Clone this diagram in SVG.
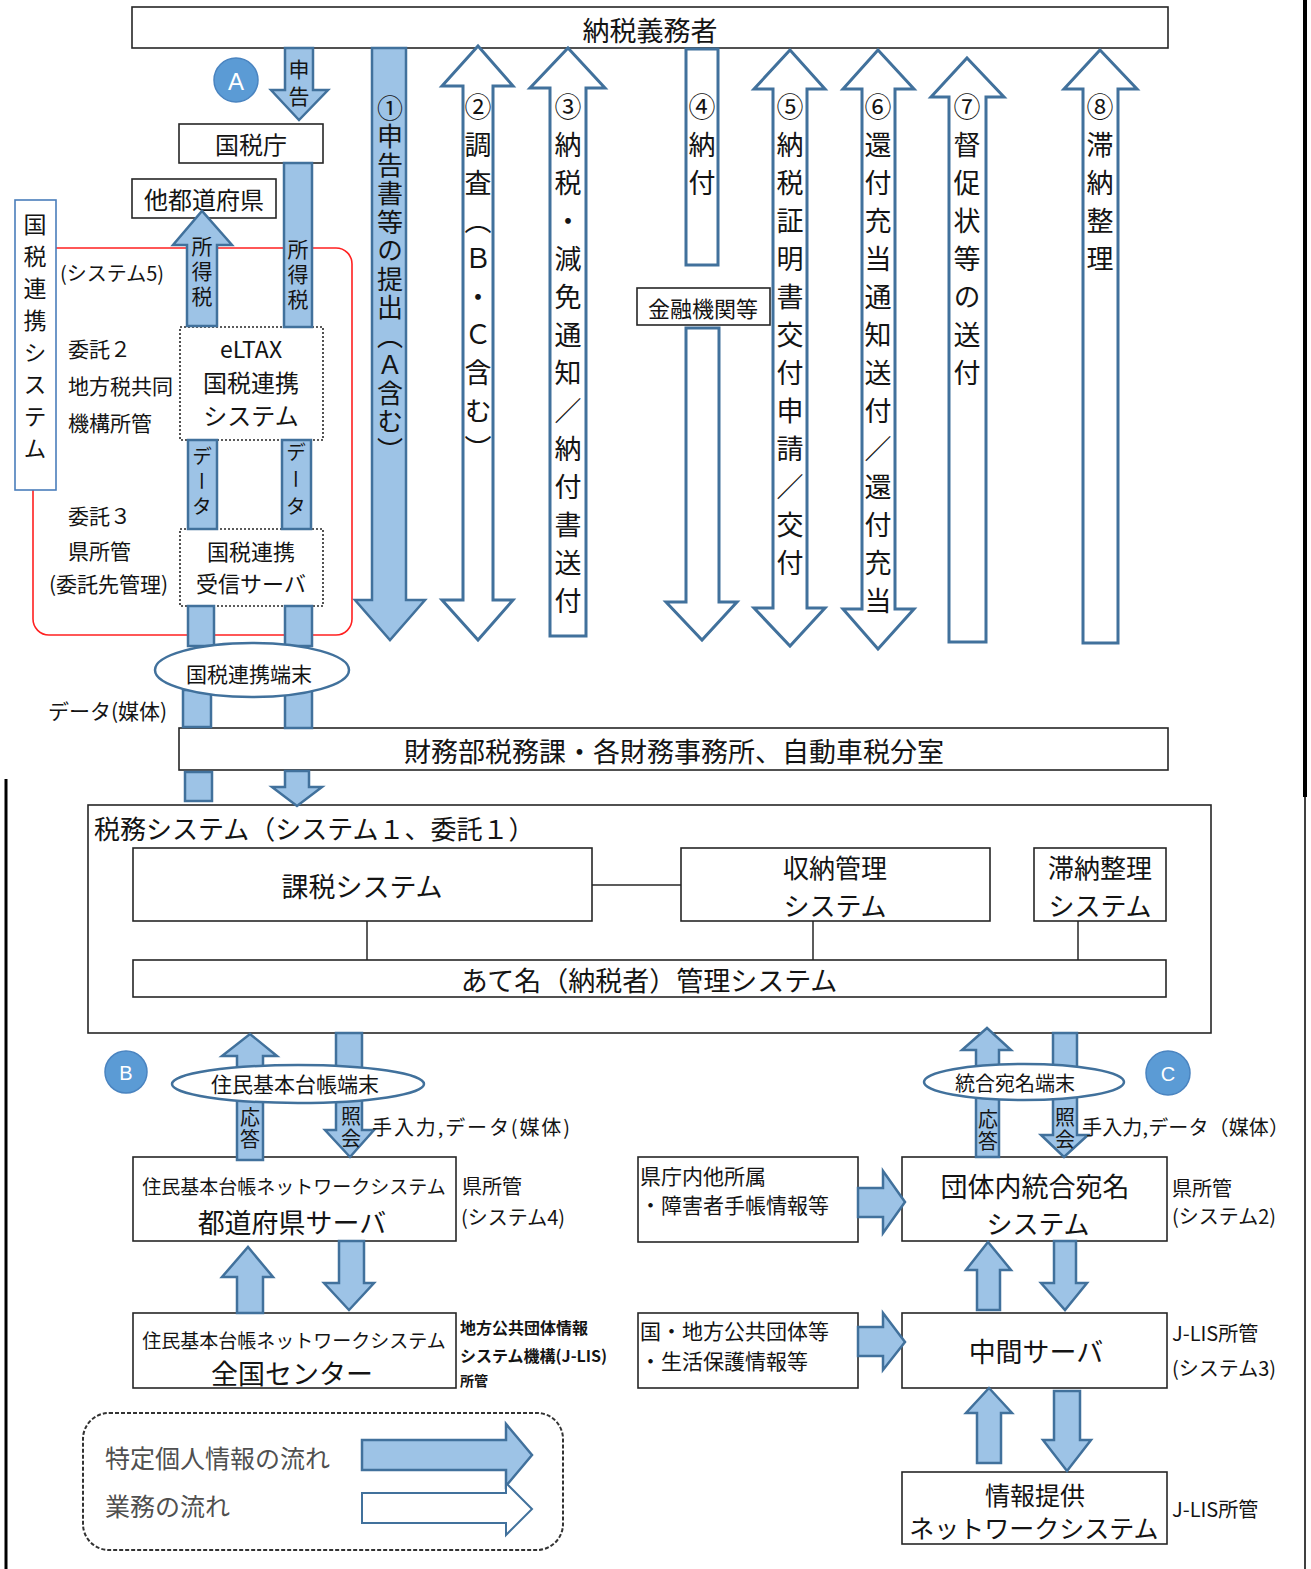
<svg xmlns="http://www.w3.org/2000/svg" width="1311" height="1569" viewBox="0 0 1311 1569">
<style>
.bx{fill:#fff;stroke:#262626;stroke-width:1.6}
.dt{fill:#fff;stroke:#262626;stroke-width:1.6;stroke-dasharray:2 2}
.ba{fill:#9DC3E6;stroke:#41719C;stroke-width:2.5}
.wa{fill:#fff;stroke:#41719C;stroke-width:3}
.el{fill:#fff;stroke:#41719C;stroke-width:2.5}
.ln{stroke:#262626;stroke-width:1.5;fill:none}
.cir{fill:#5B9BD5;stroke:#4A84C0;stroke-width:1.5}
text{font-family:"Noto Sans CJK JP","Noto Sans",sans-serif;fill:#141414}
.m{text-anchor:middle;dominant-baseline:central}
.l{dominant-baseline:central}
.v{writing-mode:vertical-rl}
.ct{fill:#fff;text-anchor:middle;dominant-baseline:central;font-family:"Liberation Sans",sans-serif;font-size:24px}
.lg{fill:#505050}
</style>

<!-- page edge lines -->
<line x1="6" y1="779" x2="6" y2="1569" stroke="#000" stroke-width="3"/>
<line x1="1305" y1="0" x2="1305" y2="797" stroke="#000" stroke-width="4"/>
<line x1="1305" y1="797" x2="1305" y2="1569" stroke="#000" stroke-width="1.5"/>

<!-- red boundary of system 5 -->
<rect x="33" y="248" width="319" height="387" rx="16" fill="none" stroke="#FF2020" stroke-width="1.6"/>

<g id="node-nozeigimusha">
<rect class="bx" x="132" y="7" width="1036" height="41"/>
<text class="m" x="650" y="29" style="font-size:27px">納税義務者</text>
</g>

<g id="node-kokuzeicho">
<rect class="bx" x="179" y="124" width="144" height="39"/>
<text class="m" x="251" y="143" style="font-size:24px">国税庁</text>
</g>

<g id="node-tatodofuken">
<rect class="bx" x="132" y="179" width="144" height="39"/>
<text class="m" x="204" y="198" style="font-size:24px">他都道府県</text>
</g>

<g id="node-kokuzei-renkei-system">
<rect x="15" y="200" width="41" height="290" fill="#fff" stroke="#4A7EBB" stroke-width="1.6"/>
<text class="v" x="35" y="213" style="font-size:23px;letter-spacing:9px">国税連携システム</text>
</g>

<g id="node-labels-system5">
<text class="l" x="60" y="272" style="font-size:20px">(システム5)</text>
<text class="l" x="68" y="348" style="font-size:21px">委託２</text>
<text class="l" x="68" y="385" style="font-size:21px">地方税共同</text>
<text class="l" x="68" y="422" style="font-size:21px">機構所管</text>
<text class="l" x="68" y="515" style="font-size:21px">委託３</text>
<text class="l" x="68" y="550" style="font-size:21px">県所管</text>
<text class="l" x="49" y="583" style="font-size:21px">(委託先管理)</text>
</g>

<g id="node-eltax">
<rect class="dt" x="180" y="327" width="143" height="113"/>
<text class="m" x="251" y="348" style="font-size:23px">eLTAX</text>
<text class="m" x="251" y="381" style="font-size:24px">国税連携</text>
<text class="m" x="251" y="414" style="font-size:24px">システム</text>
</g>

<g id="node-jushin-server">
<rect class="dt" x="180" y="529" width="143" height="77"/>
<text class="m" x="251" y="550" style="font-size:22px">国税連携</text>
<text class="m" x="251" y="582" style="font-size:22px">受信サーバ</text>
</g>

<g id="node-kinyu">
<rect class="bx" x="637" y="288" width="133" height="37"/>
<text class="m" x="703" y="307" style="font-size:22px">金融機関等</text>
</g>

<g id="node-zaimubu">
<rect class="bx" x="179" y="728" width="989" height="42"/>
<text class="m" x="674" y="750" style="font-size:27px">財務部税務課・各財務事務所、自動車税分室</text>
</g>

<g id="node-zeimu-system">
<rect class="bx" x="88" y="805" width="1123" height="228"/>
<text class="l" x="94" y="827" style="font-size:26px">税務システム（システム１、委託１）</text>
</g>

<g id="node-kazei">
<rect class="bx" x="133" y="848" width="459" height="73"/>
<text class="m" x="362" y="885" style="font-size:27px">課税システム</text>
</g>

<g id="node-shuno">
<rect class="bx" x="681" y="848" width="309" height="73"/>
<text class="m" x="835" y="866" style="font-size:26px">収納管理</text>
<text class="m" x="835" y="904" style="font-size:26px">システム</text>
</g>

<g id="node-taino">
<rect class="bx" x="1034" y="848" width="132" height="73"/>
<text class="m" x="1100" y="866" style="font-size:26px">滞納整理</text>
<text class="m" x="1100" y="904" style="font-size:26px">システム</text>
</g>

<g id="node-atena">
<rect class="bx" x="133" y="960" width="1033" height="37"/>
<text class="m" x="649" y="979" style="font-size:27px">あて名（納税者）管理システム</text>
</g>

<g id="node-juki-todofuken">
<rect class="bx" x="133" y="1157" width="323" height="84"/>
<text class="m" x="294" y="1185" style="font-size:19px">住民基本台帳ネットワークシステム</text>
<text class="m" x="292" y="1221" style="font-size:27px">都道府県サーバ</text>
<text class="l" x="462" y="1185" style="font-size:20px">県所管</text>
<text class="l" x="461" y="1216" style="font-size:20px">(システム4)</text>
</g>

<g id="node-juki-zenkoku">
<rect class="bx" x="133" y="1313" width="323" height="75"/>
<text class="m" x="294" y="1339" style="font-size:19px">住民基本台帳ネットワークシステム</text>
<text class="m" x="292" y="1372" style="font-size:27px">全国センター</text>
<text class="l" x="460" y="1327" style="font-size:16px;font-weight:bold">地方公共団体情報</text>
<text class="l" x="460" y="1355" style="font-size:16px;font-weight:bold">システム機構(J-LIS)</text>
<text class="l" x="460" y="1380" style="font-size:14px;font-weight:bold">所管</text>
</g>

<g id="node-kenchonai">
<rect class="bx" x="638" y="1157" width="220" height="85"/>
<text class="l" x="640" y="1175" style="font-size:21px">県庁内他所属</text>
<text class="l" x="640" y="1204" style="font-size:21px">・障害者手帳情報等</text>
</g>

<g id="node-kuni-chiho">
<rect class="bx" x="638" y="1313" width="220" height="75"/>
<text class="l" x="640" y="1330" style="font-size:21px">国・地方公共団体等</text>
<text class="l" x="640" y="1360" style="font-size:21px">・生活保護情報等</text>
</g>

<g id="node-dantainai-atena">
<rect class="bx" x="902" y="1157" width="265" height="84"/>
<text class="m" x="1035" y="1185" style="font-size:27px">団体内統合宛名</text>
<text class="m" x="1038" y="1222" style="font-size:26px">システム</text>
<text class="l" x="1172" y="1187" style="font-size:20px">県所管</text>
<text class="l" x="1172" y="1215" style="font-size:20px">(システム2)</text>
</g>

<g id="node-chukan-server">
<rect class="bx" x="902" y="1313" width="265" height="75"/>
<text class="m" x="1036" y="1350" style="font-size:27px">中間サーバ</text>
<text class="l" x="1172" y="1332" style="font-size:20px">J-LIS所管</text>
<text class="l" x="1172" y="1367" style="font-size:20px">(システム3)</text>
</g>

<g id="node-joho-teikyo">
<rect class="bx" x="902" y="1472" width="265" height="72"/>
<text class="m" x="1035" y="1494" style="font-size:25px">情報提供</text>
<text class="m" x="1034" y="1527" style="font-size:25px">ネットワークシステム</text>
<text class="l" x="1172" y="1508" style="font-size:20px">J-LIS所管</text>
</g>

<g id="connectors">
<!-- internal tax system lines -->
<line class="ln" x1="592" y1="885" x2="681" y2="885"/>
<line class="ln" x1="367" y1="921" x2="367" y2="960"/>
<line class="ln" x1="813" y1="921" x2="813" y2="960"/>
<line class="ln" x1="1078" y1="921" x2="1078" y2="960"/>

<!-- A section -->
<path class="ba" d="M285,48 H313 V90 H328 L299,120 L271,90 H285 Z"/>
<path class="ba" d="M187,326 V245 H173 L202,211 L232,245 H217 V326 Z"/>
<rect class="ba" x="284" y="163" width="28" height="164"/>
<rect class="ba" x="188" y="440" width="29" height="89"/>
<rect class="ba" x="282" y="440" width="29" height="89"/>
<rect class="ba" x="188" y="606" width="26" height="40"/>
<rect class="ba" x="285" y="606" width="27" height="40"/>
<rect class="ba" x="183" y="690" width="28" height="37"/>
<rect class="ba" x="285" y="690" width="27" height="38"/>
<rect class="ba" x="185" y="772" width="27" height="29"/>
<path class="ba" d="M285,771 H309 V787 H322 L297,806 L272,787 H285 Z"/>

<!-- flow arrows 1-8 -->
<path class="ba" d="M372,48 H406 V600 H425 L390,640 L355,600 H372 Z"/>
<path class="wa" d="M478,46 L513,86 H493 V600 H513 L478,640 L442,600 H463 V86 H442 Z"/>
<path class="wa" d="M568,48 L605,88 H586 V636 H550 V88 H530 Z"/>
<rect class="wa" x="686" y="49" width="32" height="216"/>
<path class="wa" d="M686,328 H719 V602 H737 L702,640 L666,602 H686 Z"/>
<path class="wa" d="M790,50 L825,89 H807 V608 H825 L790,646 L754,608 H773 V89 H754 Z"/>
<path class="wa" d="M878,50 L914,89 H895 V609 H914 L878,649 L843,609 H862 V89 H843 Z"/>
<path class="wa" d="M967,58 L1004,97 H986 V642 H949 V97 H931 Z"/>
<path class="wa" d="M1100,50 L1137,89 H1118 V643 H1083 V89 H1064 Z"/>

<!-- B section -->
<path class="ba" d="M237,1160 V1056 H222 L250,1034 L277,1056 H263 V1160 Z"/>
<path class="ba" d="M336,1033 H362 V1130 H374 L350,1157 L325,1130 H336 Z"/>
<path class="ba" d="M237,1313 V1277 H222 L248,1247 L273,1277 H263 V1313 Z"/>
<path class="ba" d="M339,1241 H364 V1283 H374 L349,1310 L324,1283 H339 Z"/>

<!-- C section -->
<path class="ba" d="M976,1157 V1050 H962 L987,1028 L1011,1050 H999 V1157 Z"/>
<path class="ba" d="M1053,1033 H1077 V1135 H1088 L1064,1157 L1041,1135 H1053 Z"/>
<path class="ba" d="M977,1310 V1270 H966 L988,1242 L1011,1270 H1000 V1310 Z"/>
<path class="ba" d="M1054,1241 H1076 V1283 H1087 L1065,1310 L1041,1283 H1054 Z"/>
<path class="ba" d="M977,1463 V1413 H966 L989,1388 L1012,1413 H1001 V1463 Z"/>
<path class="ba" d="M1054,1391 H1080 V1440 H1091 L1067,1471 L1043,1440 H1054 Z"/>
<path class="ba" d="M858,1188 H883 V1171 L905,1202 L883,1233 V1217 H858 Z"/>
<path class="ba" d="M858,1327 H883 V1313 L905,1342 L883,1370 V1356 H858 Z"/>
</g>

<!-- terminals (drawn over shafts) -->
<g id="node-kokuzei-tanmatsu">
<ellipse class="el" cx="252" cy="670" rx="97" ry="27"/>
<text class="m" x="249" y="673" style="font-size:21px">国税連携端末</text>
</g>
<g id="node-juki-tanmatsu">
<ellipse class="el" cx="298" cy="1084" rx="126" ry="19"/>
<text class="m" x="295" y="1083" style="font-size:21px">住民基本台帳端末</text>
</g>
<g id="node-togo-tanmatsu">
<ellipse class="el" cx="1024" cy="1082" rx="100" ry="18"/>
<text class="m" x="1015" y="1082" style="font-size:20px">統合宛名端末</text>
</g>

<!-- circle markers -->
<g id="marker-A"><circle class="cir" cx="236" cy="80" r="22"/><text class="ct" x="236" y="81">A</text></g>
<g id="marker-B"><circle class="cir" cx="126" cy="1072" r="21"/><text class="ct" x="126" y="1073" style="font-size:20px">B</text></g>
<g id="marker-C"><circle class="cir" cx="1168" cy="1073" r="22"/><text class="ct" x="1168" y="1074" style="font-size:20px">C</text></g>

<!-- connector labels -->
<g id="connector-labels">
<text class="v" x="299" y="59" style="font-size:21px;letter-spacing:6px">申告</text>
<text class="v" x="202" y="236" style="font-size:21px;letter-spacing:4px">所得税</text>
<text class="v" x="298" y="239" style="font-size:21px;letter-spacing:4px">所得税</text>
<text class="v" x="202" y="446" style="font-size:20px;letter-spacing:5px">データ</text>
<text class="v" x="296" y="442" style="font-size:20px;letter-spacing:7px">データ</text>
<text class="l" x="48" y="710" style="font-size:21px">データ(媒体)</text>

<text class="v" x="390" y="95" style="font-size:26px;letter-spacing:2.5px">①申告書等の提出（Ａ含む）</text>
<text class="v" x="478" y="93" style="font-size:27px;letter-spacing:11px">②調査（Ｂ・Ｃ含む）</text>
<text class="v" x="568" y="93" style="font-size:27px;letter-spacing:11px">③納税・減免通知／納付書送付</text>
<text class="v" x="702" y="93" style="font-size:27px;letter-spacing:11px">④納付</text>
<text class="v" x="790" y="93" style="font-size:27px;letter-spacing:11px">⑤納税証明書交付申請／交付</text>
<text class="v" x="878" y="93" style="font-size:27px;letter-spacing:11px">⑥還付充当通知送付／還付充当</text>
<text class="v" x="967" y="93" style="font-size:27px;letter-spacing:11px">⑦督促状等の送付</text>
<text class="v" x="1100" y="93" style="font-size:27px;letter-spacing:11px">⑧滞納整理</text>

<text class="v" x="250" y="1107" style="font-size:20px;letter-spacing:2px">応答</text>
<text class="v" x="351" y="1106" style="font-size:20px;letter-spacing:2px">照会</text>
<text class="l" x="372" y="1126" style="font-size:20px" textLength="198" lengthAdjust="spacing">手入力,データ(媒体)</text>
<text class="v" x="988" y="1109" style="font-size:20px;letter-spacing:2px">応答</text>
<text class="v" x="1065" y="1107" style="font-size:20px;letter-spacing:2px">照会</text>
<text class="l" x="1082" y="1126" style="font-size:20px" textLength="207" lengthAdjust="spacing">手入力,データ（媒体）</text>
</g>

<!-- legend -->
<g id="legend">
<rect x="83" y="1413" width="480" height="137" rx="26" fill="none" stroke="#333" stroke-width="2" stroke-dasharray="4 2"/>
<text class="l lg" x="105" y="1457" style="font-size:25px">特定個人情報の流れ</text>
<text class="l lg" x="105" y="1505" style="font-size:25px">業務の流れ</text>
<path class="ba" d="M362,1440 H506 V1424 L532,1455 L506,1486 V1470 H362 Z"/>
<path class="wa" style="stroke-width:2" d="M362,1493 H506 V1483 L532,1509 L506,1535 V1523 H362 Z"/>
</g>
</svg>
